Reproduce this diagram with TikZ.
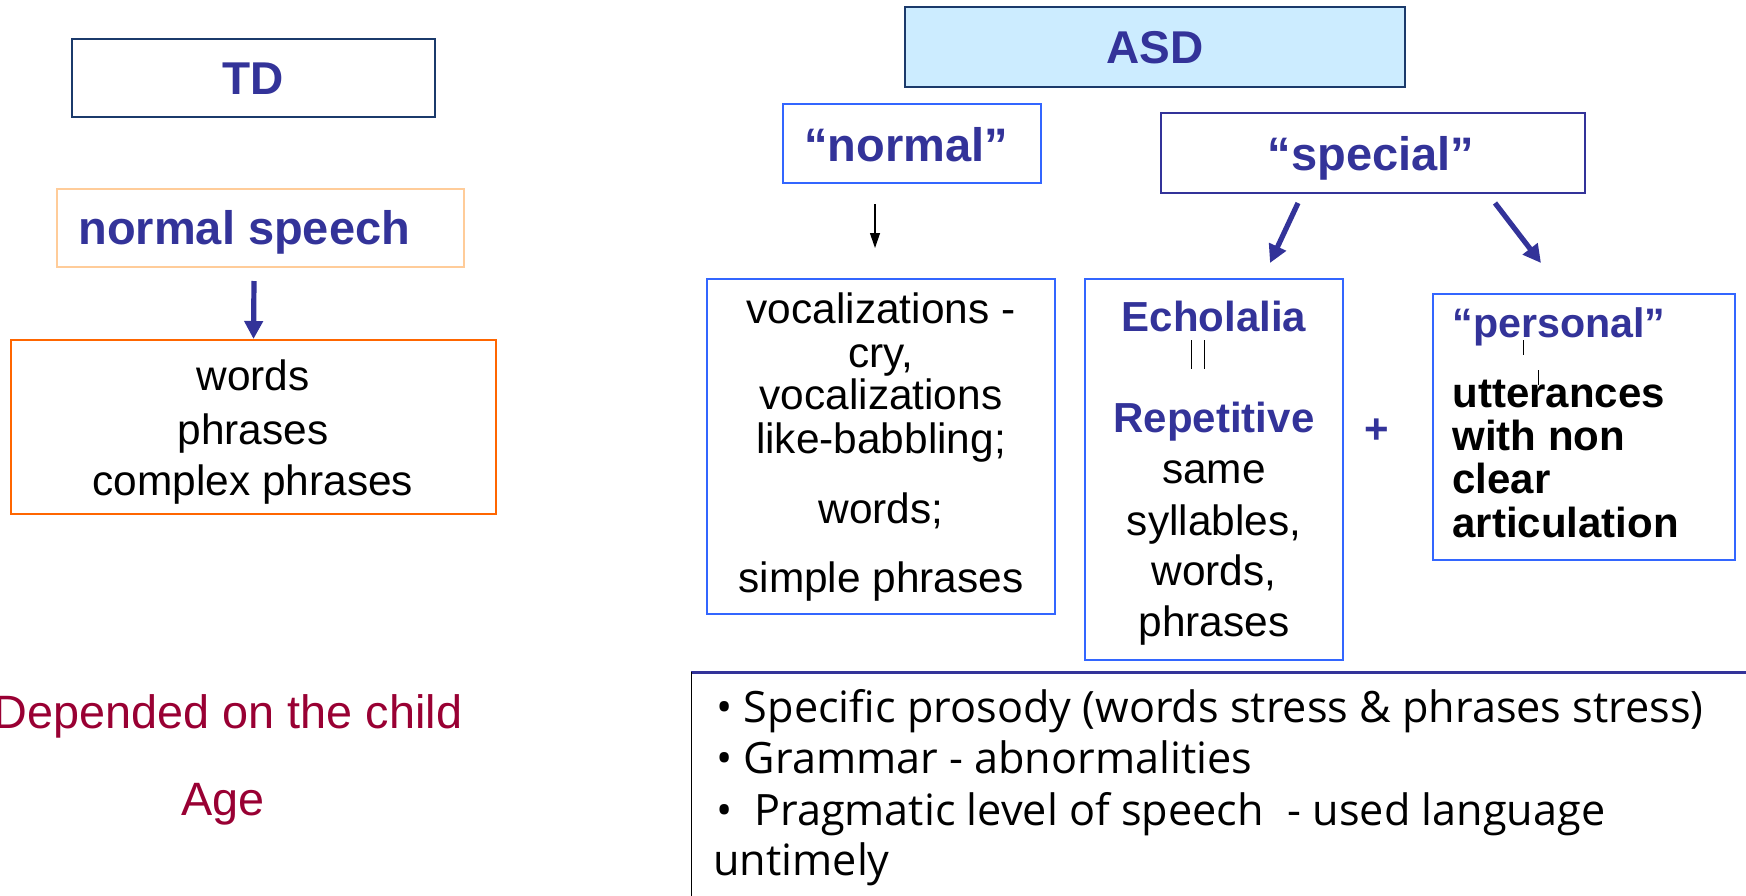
\documentclass[tikz,border=0pt]{standalone}
\usepackage{fontspec}
\setmainfont{Liberation Sans}
\newfontfamily\notesfont{Open Sans}
\usetikzlibrary{arrows.meta}

\definecolor{navytext}{HTML}{333399}
\definecolor{linkblue}{HTML}{3366FF}
\definecolor{darknavy}{HTML}{1B3A6B}
\definecolor{asdfill}{HTML}{CCECFF}
\definecolor{peach}{HTML}{FFCC99}
\definecolor{orangeline}{HTML}{FF6600}
\definecolor{wine}{HTML}{990033}

\tikzset{
  box/.style={draw, rectangle, line width=1pt, inner sep=0pt},
  headbig/.style={font=\fontsize{23}{27}\selectfont\bfseries, text=navytext, inner sep=0pt, anchor=base},
  headmid/.style={font=\fontsize{23.5}{27}\selectfont\bfseries, text=navytext, inner sep=0pt, anchor=base},
  plain/.style={font=\fontsize{21.2}{25}\selectfont, text=black, inner sep=0pt, anchor=base},
  boldblue/.style={font=\fontsize{21}{25}\selectfont\bfseries, text=navytext, inner sep=0pt, anchor=base},
  boldblack/.style={font=\fontsize{21}{25}\selectfont\bfseries, text=black, inner sep=0pt, anchor=base west},
  redtext/.style={font=\fontsize{23.4}{27}\selectfont, text=wine, inner sep=0pt, anchor=base},
  noteline/.style={font=\notesfont\fontsize{21.6}{26}\selectfont, text=black, inner sep=0pt, anchor=base west},
  fatarrow/.style={draw=navytext, line width=2.6pt, -{Triangle[length=9pt,width=9pt]}},
  thinarrow/.style={draw=black, line width=0.6pt, -{Triangle[length=7.5pt,width=5pt]}},
  tick/.style={draw=black, line width=0.5pt}
}

\begin{document}
\begin{tikzpicture}[x=0.5pt,y=-0.5pt]
\useasboundingbox (0,0) rectangle (1746,895);

% ---------- TD column ----------
\node[box, draw=darknavy, minimum width=181.5pt, minimum height=39pt] (td) at (253.5,77.5) {};
\node[headbig] (tdtext) at (253,94) {TD};

\node[box, draw=peach, minimum width=203.5pt, minimum height=39pt] (ns) at (260.5,228) {};
\node[headmid, anchor=base west] (nstext) at (78,244) {normal speech};

\node[box, draw=orangeline, minimum width=242.5pt, minimum height=87pt] (words) at (253.5,427) {};
\node[plain] (w1) at (253,390) {words};
\node[plain] (w2) at (253,444) {phrases};
\node[plain] (w3) at (253,495) {complex phrases};

\coordinate (nsdown) at (254,281);
\draw[fatarrow] (nsdown) -- (words.north);

\node[redtext] (dep) at (228,728) {Depended on the child};
\node[redtext] (age) at (223,815) {Age};

% ---------- ASD column ----------
\node[box, draw=darknavy, fill=asdfill, minimum width=250pt, minimum height=40pt] (asd) at (1155,47) {};
\node[headbig] (asdtext) at (1155,63) {ASD};

\node[box, draw=linkblue, minimum width=129pt, minimum height=39.5pt] (normal) at (912,143.5) {};
\node[headmid] (normaltext) at (906,161) {“normal”};

\node[box, draw=navytext, minimum width=212pt, minimum height=40pt] (special) at (1373,153) {};
\node[headmid] (specialtext) at (1371,170) {“special”};

% vocalizations
\node[box, draw=linkblue, minimum width=174pt, minimum height=167.5pt] (voc) at (881,446.5) {};
\node[plain] (v1) at (881,323) {vocalizations -};
\node[plain] (v2) at (881,367) {cry,};
\node[plain] (v3) at (881,409) {vocalizations};
\node[plain] (v4) at (881,453) {like-babbling;};
\node[plain] (v5) at (881,523) {words;};
\node[plain] (v6) at (881,592) {simple phrases};

% echolalia
\node[box, draw=linkblue, minimum width=129pt, minimum height=190.5pt] (echo) at (1214,469.5) {};
\node[boldblue] (e1) at (1214,331) {Echolalia};
\node[boldblue] (e2) at (1214,432) {Repetitive};
\node[plain] (e3) at (1214,483) {same};
\node[plain] (e4) at (1214,535) {syllables,};
\node[plain] (e5) at (1214,585) {words,};
\node[plain] (e6) at (1214,636) {phrases};
\coordinate (eqa1) at (1191,340); \coordinate (eqa2) at (1191,369);
\coordinate (eqb1) at (1204,340); \coordinate (eqb2) at (1204,369);
\draw[tick] (eqa1) -- (eqa2);
\draw[tick] (eqb1) -- (eqb2);

\node[boldblue, anchor=center] (plus) at (1377,431) {+};

% personal
\node[box, draw=linkblue, minimum width=151pt, minimum height=133pt] (personal) at (1584,427) {};
\node[boldblue, anchor=base west, font=\fontsize{20.6}{25}\selectfont\bfseries] (p1) at (1452,337) {“personal”};
\node[boldblack] (p2) at (1452,407) {utterances};
\node[boldblack] (p3) at (1452,450) {with non};
\node[boldblack] (p4) at (1452,493) {clear};
\node[boldblack] (p5) at (1452,537) {articulation};
\coordinate (pta1) at (1523,340); \coordinate (pta2) at (1523,355);
\coordinate (ptb1) at (1538,370); \coordinate (ptb2) at (1538,385);
\draw[tick] (pta1) -- (pta2);
\draw[tick] (ptb1) -- (ptb2);

% arrows
\coordinate (na1) at (875,204); \coordinate (na2) at (875,248);
\draw[thinarrow] (na1) -- (na2);
\coordinate (sl1) at (1298,203); \coordinate (sl2) at (1270,263);
\draw[fatarrow] (sl1) -- (sl2);
\coordinate (sr1) at (1495,203); \coordinate (sr2) at (1541,263);
\draw[fatarrow] (sr1) -- (sr2);

% ---------- notes panel ----------
\coordinate (notestl) at (691,672);
\coordinate (notestr) at (1760,672);
\coordinate (notesbl) at (691,910);
\draw[draw=navytext, line width=1.5pt] (notestl) -- (notestr);
\draw[draw=black, line width=0.5pt] (notestl) -- (notesbl);
\node[noteline] (n1) at (716,722) {• Specific prosody (words stress \& phrases stress)};
\node[noteline] (n2) at (716,773) {• Grammar - abnormalities};
\node[noteline] (n3) at (716,825) {•\hspace{0.5em}Pragmatic level of speech\hspace{0.55em}- used language};
\node[noteline] (n4) at (713,875) {untimely};
\end{tikzpicture}
\end{document}
